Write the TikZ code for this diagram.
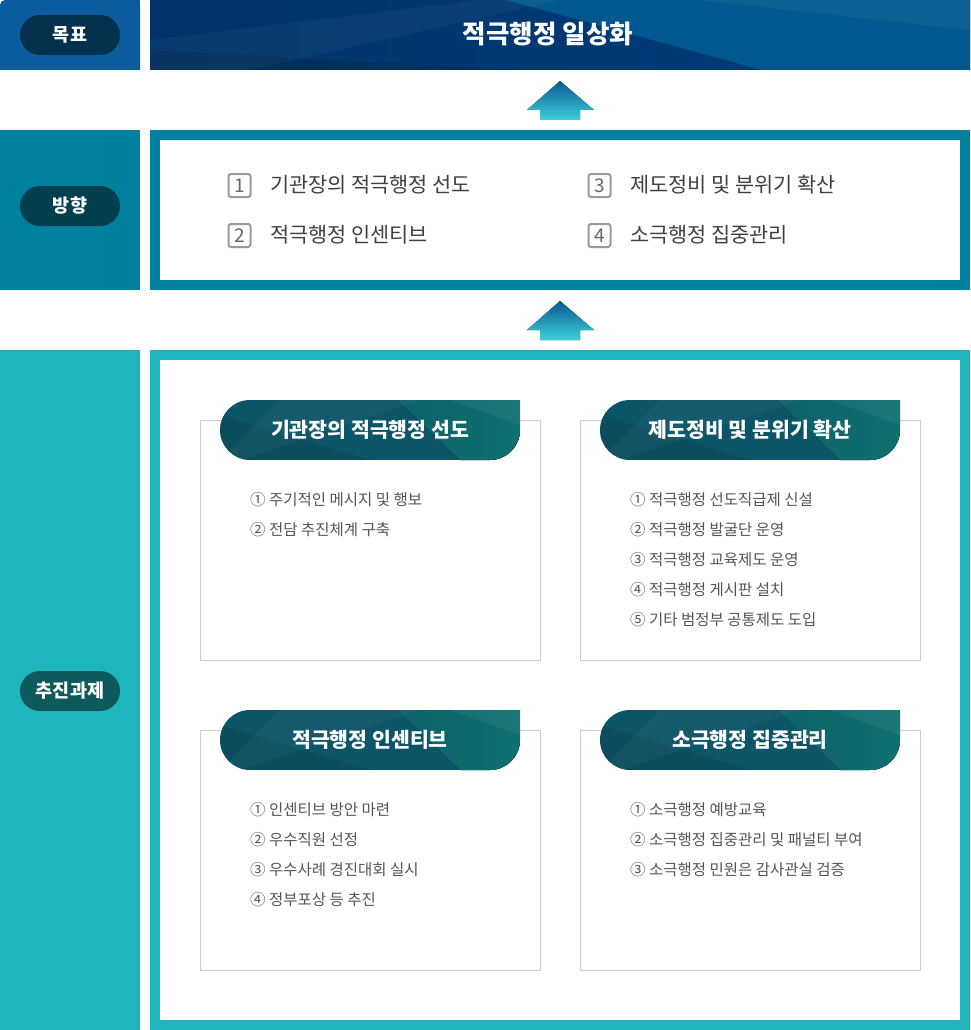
\documentclass[tikz,border=0pt]{standalone}
\usepackage{fontspec}
\setmainfont{Noto Sans CJK KR}
\definecolor{rowA}{HTML}{0A5C9E}
\definecolor{rowB}{HTML}{00809F}
\definecolor{rowC}{HTML}{1EB5BC}
\definecolor{pillA}{HTML}{03304D}
\definecolor{pillB}{HTML}{033F4F}
\definecolor{pillC}{HTML}{0D5A5C}
\definecolor{banDark}{HTML}{003D7C}
\definecolor{banLight}{HTML}{00588E}
\definecolor{arrTop}{HTML}{0A5A94}
\definecolor{arrBot}{HTML}{3DD0D8}
\definecolor{tabDark}{HTML}{0C5467}
\definecolor{tabLight}{HTML}{0F716F}
\definecolor{cardLine}{HTML}{CCCCCC}
\definecolor{dirText}{HTML}{404040}
\definecolor{itemText}{HTML}{555555}
\definecolor{numLine}{HTML}{999999}
\definecolor{numText}{HTML}{666666}
\tikzset{
  pill/.style={rounded corners=20pt, minimum width=100pt, minimum height=40pt, inner sep=0pt,
    text=white, font=\bfseries\fontsize{18.5}{20}\selectfont},
  numbox/.style={draw=numLine, line width=2pt, rounded corners=2.5pt, minimum width=22pt,
    minimum height=23pt, inner sep=0pt, text=numText, font=\fontsize{19}{19}\selectfont},
  dirtext/.style={anchor=west, inner sep=0pt, text=dirText, font=\fontsize{20.8}{21}\selectfont},
  cardbox/.style={draw=cardLine, line width=1pt, fill=white, minimum width=340pt, minimum height=240pt, inner sep=0pt},
  tabtitle/.style={inner sep=0pt, text=white, font=\bfseries\fontsize{20.5}{21}\selectfont},
  itemstyle/.style={anchor=west, inner sep=0pt, text=itemText, font=\fontsize{15.5}{16}\selectfont},
  uparrow/.style={top color=arrTop, bottom color=arrBot},
}
\newcommand\mytab[4]{%
  \begin{scope}
    \clip (#1+300,#2) -- (#1+30,#2) arc[start angle=270,end angle=90,radius=30]
      -- (#1+270,#2+60) arc[start angle=90,end angle=0,radius=30] -- cycle;
    \fill[tabDark] (#1,#2) rectangle (#1+300,#2+60);
    \fill[left color=tabDark!60!tabLight, right color=tabLight] (#1+177,#2) -- (#1+300,#2) -- (#1+300,#2+60) -- (#1+240,#2+60) -- cycle;
    \fill[black,opacity=0.08] (#1,#2+15) -- (#1+150,#2+60) -- (#1,#2+60) -- cycle;
    \fill[white,opacity=0.04] (#1+60,#2) -- (#1+200,#2) -- (#1+20,#2+60) -- (#1,#2+60) -- cycle;
    \fill[white,opacity=0.05] (#1+230,#2) -- (#1+300,#2) -- (#1+300,#2+25) -- cycle;
  \end{scope}
  \node[tabtitle] (#4) at (#1+150,#2+30) {#3};
}
\begin{document}
\begin{tikzpicture}[x=1pt,y=-1pt]
\useasboundingbox (0,0) rectangle (970,1030);
\fill[white] (0,0) rectangle (970,1030);

% ---------- row 1: goal ----------
\fill[rowA, rounded corners=5pt] (0,70) -- (0,0) -- (140,0) [sharp corners] -- (140,70) -- cycle;
\fill[rowA] (0,20) rectangle (140,70);
\fill[rowA] (100,0) rectangle (140,70);
\node[pill, fill=pillA] (goal) at (70,35) {목표};
\begin{scope}
  \clip (150,0) rectangle (970,70);
  \fill[left color=banDark!85!black, right color=banDark] (150,0) rectangle (970,70);
  \fill[banLight] (506,0) -- (970,0) -- (970,70) -- (762,70) -- cycle;
  \fill[white,opacity=0.05] (700,0) -- (970,0) -- (970,30) -- cycle;
  \fill[black,opacity=0.12] (150,50) -- (520,70) -- (150,70) -- cycle;
  \fill[white,opacity=0.04] (150,40) -- (480,0) -- (560,0) -- (250,70) -- (150,70) -- cycle;
\end{scope}
\node[inner sep=0pt, text=white, font=\bfseries\fontsize{25.5}{26}\selectfont] (goaltext) at (548,34) {적극행정 일상화};

% arrow 1
\fill[uparrow] (560,81) -- (594,110) -- (580,110) -- (580,120) -- (540,120) -- (540,110) -- (527,110) -- cycle;
\coordinate (arr1) at (560,100);

% ---------- row 2: direction ----------
\fill[rowB] (0,130) rectangle (140,290);
\node[pill, fill=pillB] (dir) at (70,206) {방향};
\fill[rowB] (150,130) rectangle (970,290);
\fill[white] (160,140) rectangle (960,280);
\node[numbox] (n1) at (239.5,185.5) {1};
\node[dirtext] (d1) at (270,185) {기관장의 적극행정 선도};
\node[numbox] (n2) at (239.5,235.5) {2};
\node[dirtext] (d2) at (270,235) {적극행정 인센티브};
\node[numbox] (n3) at (599.5,185.5) {3};
\node[dirtext] (d3) at (630,185) {제도정비 및 분위기 확산};
\node[numbox] (n4) at (599.5,235.5) {4};
\node[dirtext] (d4) at (630,235) {소극행정 집중관리};

% arrow 2
\fill[uparrow] (560,301) -- (594,330) -- (580,330) -- (580,340) -- (540,340) -- (540,330) -- (527,330) -- cycle;
\coordinate (arr2) at (560,320);

% ---------- row 3: tasks ----------
\fill[rowC] (0,350) rectangle (140,1030);
\node[pill, fill=pillC] (task) at (70,691) {추진과제};
\fill[rowC] (150,350) rectangle (970,1030);
\fill[white] (160,360) rectangle (960,1020);

\node[cardbox] (card1) at (370,540) {};
\node[cardbox] (card2) at (750,540) {};
\node[cardbox] (card3) at (370,850) {};
\node[cardbox] (card4) at (750,850) {};

\mytab{220}{400}{기관장의 적극행정 선도}{tab1}
\mytab{600}{400}{제도정비 및 분위기 확산}{tab2}
\mytab{220}{710}{적극행정 인센티브}{tab3}
\mytab{600}{710}{소극행정 집중관리}{tab4}

\foreach \t [count=\i] in {① 주기적인 메시지 및 행보, ② 전담 추진체계 구축}
  \node[itemstyle] (a\i) at (250,470+30*\i) {\t};
\foreach \t [count=\i] in {① 적극행정 선도직급제 신설, ② 적극행정 발굴단 운영, ③ 적극행정 교육제도 운영, ④ 적극행정 게시판 설치, ⑤ 기타 범정부 공통제도 도입}
  \node[itemstyle] (b\i) at (630,470+30*\i) {\t};
\foreach \t [count=\i] in {① 인센티브 방안 마련, ② 우수직원 선정, ③ 우수사례 경진대회 실시, ④ 정부포상 등 추진}
  \node[itemstyle] (c\i) at (250,780+30*\i) {\t};
\foreach \t [count=\i] in {① 소극행정 예방교육, ② 소극행정 집중관리 및 패널티 부여, ③ 소극행정 민원은 감사관실 검증}
  \node[itemstyle] (e\i) at (630,780+30*\i) {\t};
\end{tikzpicture}
\end{document}
